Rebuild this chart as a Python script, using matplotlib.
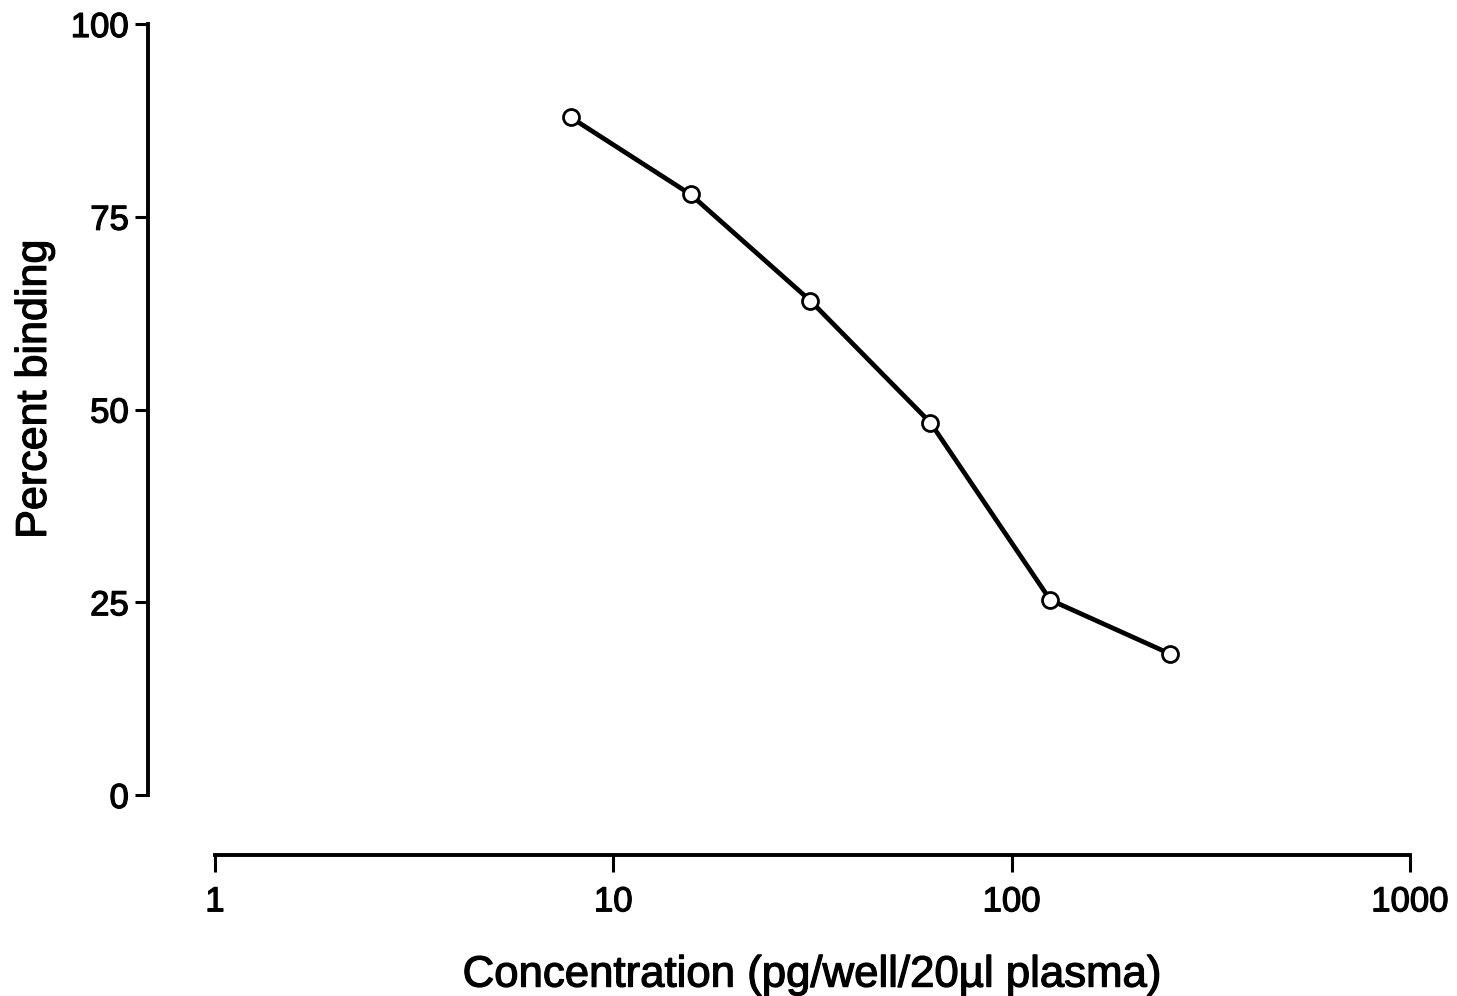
import matplotlib
matplotlib.use("Agg")
import matplotlib.pyplot as plt
import matplotlib.patheffects as pe

# doubling dilution series and measured binding
conc = [7.8125, 15.625, 31.25, 62.5, 125, 250]
binding = [87.9, 77.9, 64.1, 48.3, 25.3, 18.3]

xticks = [1, 10, 100, 1000]
xticklabels = ["1", "10", "100", "1000"]
yticks = [0, 25, 50, 75, 100]

plt.rcParams['font.family'] = ['Liberation Sans', 'DejaVu Sans']

W, H = 1457, 996
fig = plt.figure(figsize=(W / 100, H / 100), dpi=100)
ax = fig.add_axes([215 / W, (H - 795) / H, (1410 - 215) / W, (795 - 24) / H])

ax.plot(conc, binding, color='black', lw=3.4, marker='o', ms=11.5,
        mfc='white', mec='black', mew=2.0, zorder=3)

ax.set_xscale('log')
ax.set_xlim(1, 1000)
ax.set_ylim(0, 100)
ax.set_xticks(xticks)
ax.set_xticklabels(xticklabels)
ax.xaxis.set_minor_locator(matplotlib.ticker.NullLocator())
ax.set_yticks(yticks)

for s in ('top', 'right'):
    ax.spines[s].set_visible(False)
ax.spines['left'].set_position(('outward', 48))
ax.spines['bottom'].set_position(('outward', 43))
for s in ('left', 'bottom'):
    ax.spines[s].set_linewidth(2.8)

ax.tick_params(axis='both', direction='out', width=2.2, labelsize=25,
               colors='black')
ax.tick_params(axis='x', length=12, pad=10)
ax.tick_params(axis='y', length=9.5, pad=4.5)

# heavier glyphs, like the printed figure
bold = [pe.withStroke(linewidth=0.9, foreground='black')]
for t in ax.get_xticklabels() + ax.get_yticklabels():
    t.set_path_effects(bold)

ax.set_xlabel("Concentration (pg/well/20µl plasma)", fontsize=31.5,
              path_effects=bold)
ax.set_ylabel("Percent binding", fontsize=31, path_effects=bold)
ax.yaxis.set_label_coords(-0.134, 0.526)
ax.xaxis.set_label_coords(0.5, -0.207)

fig.savefig("out.png", dpi=100, facecolor='white')
